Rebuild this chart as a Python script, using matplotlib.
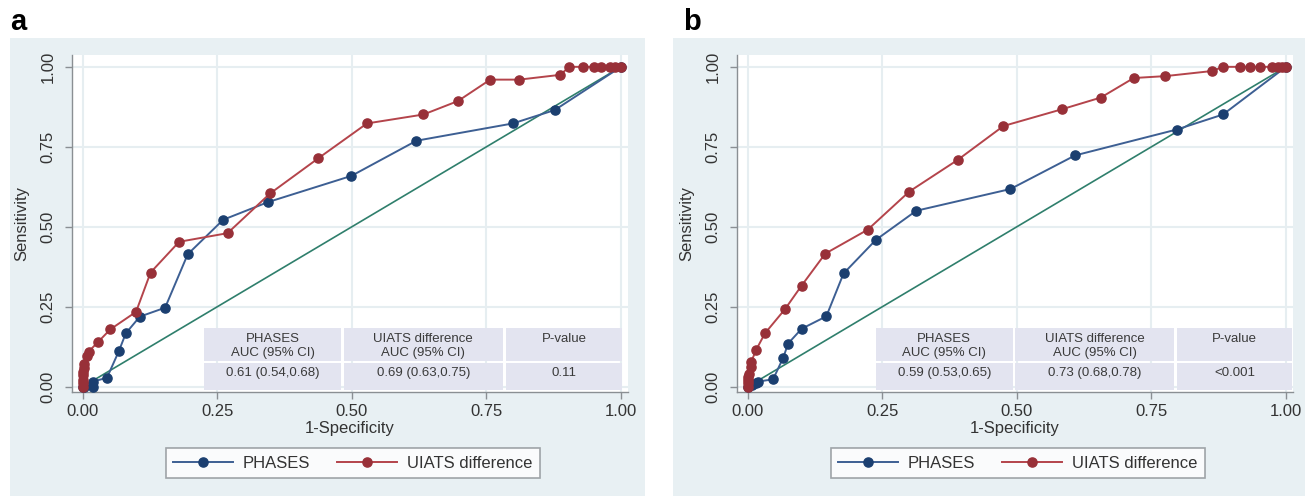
import numpy as np
import matplotlib
matplotlib.use("Agg")
import matplotlib.pyplot as plt
from matplotlib.patches import Rectangle
from matplotlib.lines import Line2D

plt.rcParams['font.family'] = ['Liberation Sans', 'DejaVu Sans']

# ---- data ----
# panel a
a_phases_x = [0.0, 0.003, 0.019, 0.019, 0.045, 0.067, 0.080, 0.106, 0.153, 0.195,
              0.261, 0.344, 0.499, 0.620, 0.799, 0.877, 1.0]
a_phases_y = [0.0, 0.0, 0.0, 0.016, 0.028, 0.111, 0.167, 0.219, 0.247, 0.414,
              0.522, 0.577, 0.659, 0.769, 0.823, 0.865, 1.0]
a_uiats_x = [0.0, 0.0, 0.0, 0.0, 0.001, 0.002, 0.003, 0.008, 0.011, 0.028, 0.051,
             0.099, 0.126, 0.179, 0.269, 0.348, 0.4375, 0.528, 0.633, 0.697,
             0.757, 0.811, 0.887, 0.904, 0.930, 0.949, 0.962, 0.980, 0.989, 1.0]
a_uiats_y = [0.0, 0.01, 0.02, 0.035, 0.045, 0.058, 0.07, 0.097, 0.11, 0.139, 0.179,
             0.234, 0.357, 0.453, 0.480, 0.604, 0.714, 0.823, 0.851, 0.893,
             0.960, 0.960, 0.975, 1.0, 1.0, 1.0, 1.0, 1.0, 1.0, 1.0]
a_table = [["PHASES\nAUC (95% CI)", "UIATS difference\nAUC (95% CI)", "P-value"],
           ["0.61 (0.54,0.68)", "0.69 (0.63,0.75)", "0.11"]]

# panel b
b_phases_x = [0.0, 0.008, 0.016, 0.019, 0.047, 0.066, 0.075, 0.100, 0.146, 0.178,
              0.238, 0.313, 0.488, 0.608, 0.797, 0.883, 1.0]
b_phases_y = [0.0, 0.005, 0.010, 0.016, 0.023, 0.091, 0.135, 0.181, 0.220, 0.354,
              0.459, 0.550, 0.618, 0.723, 0.804, 0.851, 1.0]
b_uiats_x = [0.0, 0.0, 0.0, 0.001, 0.002, 0.006, 0.006, 0.0155, 0.032, 0.069, 0.100,
             0.144, 0.223, 0.300, 0.390, 0.475, 0.583, 0.656, 0.717, 0.776,
             0.863, 0.883, 0.914, 0.934, 0.951, 0.974, 0.985, 0.993, 1.0]
b_uiats_y = [0.0, 0.01, 0.02, 0.03, 0.04, 0.0625, 0.076, 0.115, 0.167, 0.242, 0.316,
             0.416, 0.491, 0.610, 0.709, 0.815, 0.867, 0.904, 0.965, 0.971,
             0.987, 1.0, 1.0, 1.0, 1.0, 1.0, 1.0, 1.0, 1.0]
b_table = [["PHASES\nAUC (95% CI)", "UIATS difference\nAUC (95% CI)", "P-value"],
           ["0.59 (0.53,0.65)", "0.73 (0.68,0.78)", "<0.001"]]

ticks = [0.0, 0.25, 0.5, 0.75, 1.0]
tick_labels = ["0.00", "0.25", "0.50", "0.75", "1.00"]

# ---- style ----
BG = "#e8f0f3"
GRID = "#e6eef1"
BLUE_LINE = "#3d5f93"
BLUE_MK = "#1b3f70"
RED_LINE = "#b4444b"
RED_MK = "#983038"
GREEN = "#2f7f6c"
CELL = "#e3e4f0"
MS = 6.6

W, H = 1309, 496
fig = plt.figure(figsize=(W / 100, H / 100), dpi=100)

# panel backgrounds
fig.patches.append(Rectangle((10 / W, 0), 635 / W, 458 / H, transform=fig.transFigure,
                             facecolor=BG, edgecolor="none", zorder=-5))
fig.patches.append(Rectangle((673 / W, 0), 632 / W, 458 / H, transform=fig.transFigure,
                             facecolor=BG, edgecolor="none", zorder=-5))

xlim = (-0.02, 1.013)
ylim = (-0.0166, 1.037)

panels = [
    dict(left=72, label="a", lab_x=10, px=a_phases_x, py=a_phases_y,
         ux=a_uiats_x, uy=a_uiats_y, table=a_table,
         cols=[(0.226, 0.479), (0.4845, 0.781), (0.786, 1.002)]),
    dict(left=737, label="b", lab_x=683, px=b_phases_x, py=b_phases_y,
         ux=b_uiats_x, uy=b_uiats_y, table=b_table,
         cols=[(0.238, 0.492), (0.497, 0.792), (0.797, 1.012)]),
]

for p in panels:
    ax = fig.add_axes([p["left"] / W, (H - 392) / H, 556 / W, 337 / H])
    ax.set_facecolor("white")
    ax.set_xlim(*xlim)
    ax.set_ylim(*ylim)
    for s in ["top", "right"]:
        ax.spines[s].set_visible(False)
    for s in ["left", "bottom"]:
        ax.spines[s].set_color("#8a8f93")
        ax.spines[s].set_linewidth(1.0)
    ax.set_xticks(ticks)
    ax.set_xticklabels(tick_labels)
    ax.set_yticks(ticks)
    ax.set_yticklabels(tick_labels, rotation=90, va="center")
    ax.tick_params(direction="out", length=5, width=1, color="#8a8f93",
                   labelsize=12, labelcolor="#333333", pad=4)
    ax.tick_params(axis="y", pad=7)
    ax.grid(True, color=GRID, linewidth=1.5, zorder=0)
    ax.set_axisbelow(True)
    ax.set_xlabel("1-Specificity", fontsize=12, color="#333333", labelpad=1)
    ax.set_ylabel("Sensitivity", fontsize=12, color="#333333", labelpad=8)

    # table of AUCs
    for ci, (xa, xb) in enumerate(p["cols"]):
        ax.add_patch(Rectangle((xa, 0.081), xb - xa, 0.1015, facecolor=CELL,
                               edgecolor="none", zorder=1))
        ax.add_patch(Rectangle((xa, -0.010), xb - xa, 0.083, facecolor=CELL,
                               edgecolor="none", zorder=1))
        head = p["table"][0][ci].split("\n")
        xc = (xa + xb) / 2
        ax.text(xc, 0.150, head[0], ha="center", va="center", fontsize=9.5,
                color="#3a3a3a", zorder=2)
        if len(head) > 1:
            ax.text(xc, 0.104, head[1], ha="center", va="center", fontsize=9.5,
                    color="#3a3a3a", zorder=2)
        ax.text(xc, 0.043, p["table"][1][ci], ha="center", va="center",
                fontsize=9.5, color="#3a3a3a", zorder=2)

    ax.plot([0, 1], [0, 1], color=GREEN, linewidth=1.2, zorder=3)
    ax.plot(p["px"], p["py"], color=BLUE_LINE, linewidth=1.4, marker="o",
            markersize=MS, markerfacecolor=BLUE_MK, markeredgecolor=BLUE_MK,
            zorder=4, clip_on=False)
    ax.plot(p["ux"], p["uy"], color=RED_LINE, linewidth=1.4, marker="o",
            markersize=MS, markerfacecolor=RED_MK, markeredgecolor=RED_MK,
            zorder=5, clip_on=False)

    handles = [
        Line2D([], [], color=BLUE_LINE, linewidth=1.4, marker="o", markersize=MS,
               markerfacecolor=BLUE_MK, markeredgecolor=BLUE_MK),
        Line2D([], [], color=RED_LINE, linewidth=1.4, marker="o", markersize=MS,
               markerfacecolor=RED_MK, markeredgecolor=RED_MK),
    ]
    leg = ax.legend(handles, ["PHASES", "UIATS difference"], loc="center",
                    bbox_to_anchor=(0.505, -0.212), ncol=2, fontsize=12,
                    frameon=True, fancybox=False, handlelength=3.6,
                    handletextpad=0.6, columnspacing=1.6, borderpad=0.45,
                    labelcolor="#333333")
    leg.get_frame().set_edgecolor("#8a8f93")
    leg.get_frame().set_linewidth(1.2)

    fig.text(p["lab_x"] / W, (H - 30) / H, p["label"], fontsize=21,
             fontweight="bold", ha="left", va="baseline")

fig.savefig("out.png", dpi=100)
